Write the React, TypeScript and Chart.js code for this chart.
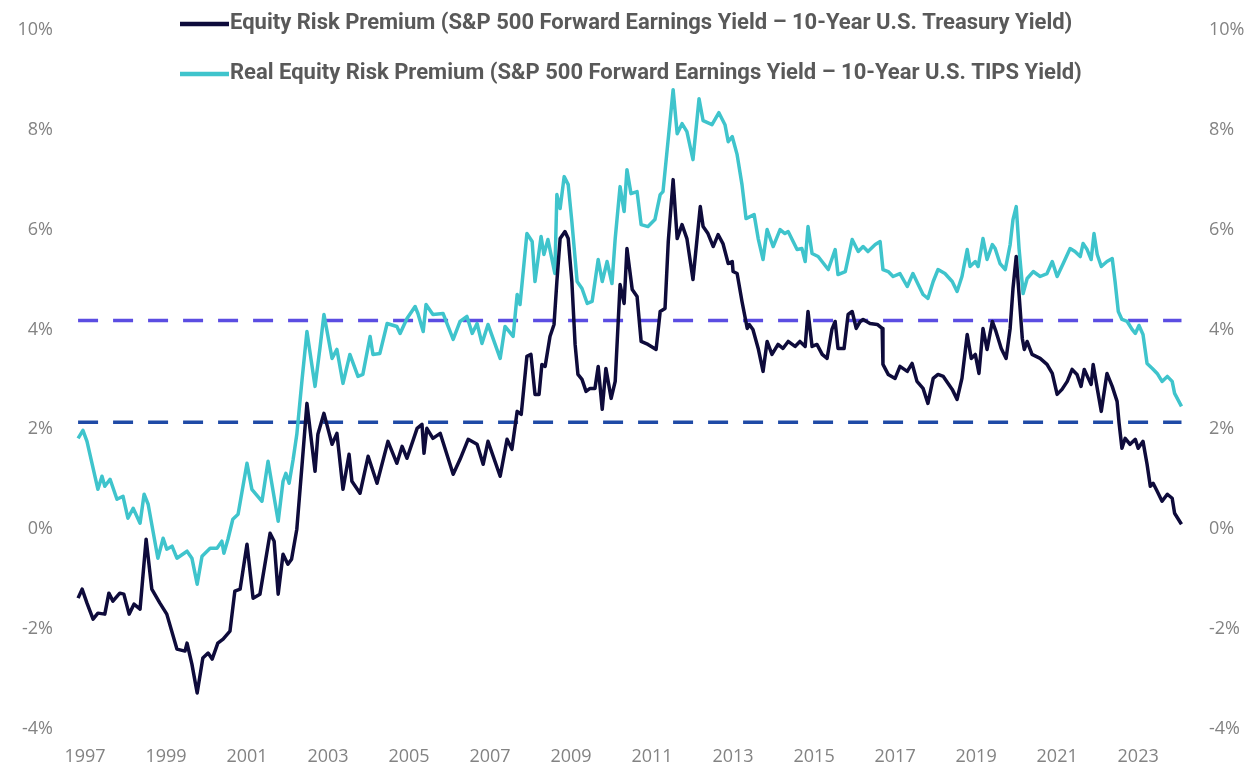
import React, { useEffect, useRef } from "react";
import { Chart, registerables } from "chart.js";

Chart.register(...registerables);

// Dates are decimal years; values are percentages.
const erpDates = [
  1996.83, 1996.93, 1997.05, 1997.2, 1997.32, 1997.49, 1997.59, 1997.69, 1997.86, 1997.96,
  1998.09, 1998.21, 1998.36, 1998.51, 1998.65, 1998.85, 1999.02, 1999.27, 1999.47, 1999.52,
  1999.64, 1999.77, 1999.91, 2000.04, 2000.14, 2000.28, 2000.41, 2000.58, 2000.7, 2000.83,
  2001.0, 2001.15, 2001.32, 2001.57, 2001.67, 2001.77, 2001.89, 2002.01, 2002.1, 2002.23,
  2002.36, 2002.48, 2002.68, 2002.75, 2002.9, 2003.1, 2003.22, 2003.37, 2003.52, 2003.59,
  2003.79, 2003.99, 2004.21, 2004.48, 2004.7, 2004.83, 2004.95, 2005.2, 2005.32, 2005.37,
  2005.44, 2005.59, 2005.77, 2006.09, 2006.26, 2006.46, 2006.68, 2006.83, 2006.95, 2007.25,
  2007.42, 2007.54, 2007.67, 2007.77, 2007.91, 2008.01, 2008.11, 2008.21, 2008.28, 2008.36,
  2008.48, 2008.58, 2008.65, 2008.73, 2008.85, 2008.93, 2009.02, 2009.1, 2009.17, 2009.27,
  2009.37, 2009.47, 2009.59, 2009.67, 2009.77, 2009.86, 2009.99, 2010.09, 2010.21, 2010.31,
  2010.38, 2010.51, 2010.63, 2010.73, 2010.9, 2011.1, 2011.2, 2011.32, 2011.4, 2011.52,
  2011.62, 2011.74, 2011.86, 2012.01, 2012.19, 2012.26, 2012.38, 2012.51, 2012.63, 2012.75,
  2012.88, 2012.98, 2013.0, 2013.1, 2013.22, 2013.35, 2013.4, 2013.49, 2013.62, 2013.74,
  2013.84, 2013.96, 2014.11, 2014.23, 2014.36, 2014.53, 2014.65, 2014.78, 2014.85, 2014.95,
  2015.07, 2015.2, 2015.32, 2015.44, 2015.52, 2015.59, 2015.74, 2015.84, 2015.94, 2016.04,
  2016.14, 2016.21, 2016.38, 2016.56, 2016.68, 2016.7, 2016.83, 2017.0, 2017.12, 2017.3,
  2017.42, 2017.54, 2017.69, 2017.81, 2017.94, 2018.06, 2018.19, 2018.41, 2018.53, 2018.65,
  2018.78, 2018.88, 2018.98, 2019.07, 2019.17, 2019.27, 2019.4, 2019.49, 2019.62, 2019.74,
  2019.84, 2019.91, 2019.99, 2020.06, 2020.14, 2020.19, 2020.26, 2020.38, 2020.58, 2020.75,
  2020.88, 2021.0, 2021.12, 2021.25, 2021.37, 2021.49, 2021.59, 2021.67, 2021.77, 2021.84,
  2021.89, 2021.99, 2022.09, 2022.23, 2022.36, 2022.48, 2022.53, 2022.6, 2022.68, 2022.8,
  2022.93, 2023.0, 2023.12, 2023.22, 2023.3, 2023.37, 2023.47, 2023.59, 2023.72, 2023.84,
  2023.9, 2024.07,
];
const erpValues = [
  -1.38, -1.2, -1.48, -1.8, -1.68, -1.7, -1.28, -1.44, -1.28, -1.3,
  -1.7, -1.5, -1.6, -0.2, -1.2, -1.48, -1.7, -2.4, -2.44, -2.28,
  -2.7, -3.28, -2.58, -2.48, -2.6, -2.28, -2.2, -2.04, -1.24, -1.2,
  -0.3, -1.38, -1.3, -0.08, -0.24, -1.3, -0.5, -0.7, -0.6, 0.0,
  1.3, 2.52, 1.16, 1.9, 2.32, 1.7, 1.92, 0.8, 1.5, 0.96,
  0.72, 1.46, 0.92, 1.76, 1.32, 1.66, 1.42, 2.02, 2.1, 1.52,
  2.02, 1.82, 1.92, 1.1, 1.4, 1.8, 1.7, 1.3, 1.76, 1.06,
  1.8, 1.6, 2.36, 2.3, 3.46, 3.5, 2.7, 2.7, 3.3, 3.26,
  3.86, 4.1, 4.96, 5.82, 5.96, 5.82, 4.96, 3.7, 3.1, 3.0,
  2.76, 2.82, 2.82, 3.26, 2.4, 3.22, 2.62, 2.96, 4.9, 4.52,
  5.62, 4.8, 4.66, 3.76, 3.7, 3.6, 4.36, 4.42, 5.76, 7.0,
  5.82, 6.1, 5.82, 5.0, 6.46, 6.06, 5.92, 5.66, 5.9, 5.72,
  5.32, 5.36, 5.16, 5.12, 4.56, 4.02, 4.1, 4.0, 3.62, 3.16,
  3.76, 3.5, 3.7, 3.62, 3.76, 3.66, 3.76, 3.66, 4.36, 3.66,
  3.7, 3.5, 3.42, 4.0, 4.16, 3.62, 3.62, 4.3, 4.36, 4.02,
  4.16, 4.2, 4.12, 4.1, 4.02, 3.3, 3.1, 3.02, 3.26, 3.16,
  3.32, 2.96, 2.82, 2.52, 3.02, 3.1, 3.06, 2.8, 2.6, 3.02,
  3.9, 3.42, 3.5, 3.12, 4.02, 3.6, 4.16, 3.96, 3.62, 3.42,
  4.02, 4.82, 5.46, 4.7, 3.82, 3.6, 3.76, 3.5, 3.42, 3.3,
  3.12, 2.7, 2.8, 2.96, 3.2, 3.1, 2.86, 3.2, 3.02, 2.9,
  3.3, 2.82, 2.36, 3.12, 2.86, 2.56, 2.12, 1.62, 1.82, 1.7,
  1.8, 1.62, 1.76, 1.3, 0.86, 0.92, 0.76, 0.56, 0.7, 0.62,
  0.32, 0.1,
];

const realDates = [
  1996.83, 1996.95, 1997.05, 1997.32, 1997.42, 1997.49, 1997.62, 1997.79, 1997.94, 1998.06,
  1998.19, 1998.36, 1998.46, 1998.56, 1998.8, 1998.93, 1999.02, 1999.15, 1999.27, 1999.52,
  1999.64, 1999.77, 1999.89, 2000.09, 2000.26, 2000.38, 2000.43, 2000.53, 2000.65, 2000.78,
  2001.0, 2001.12, 2001.37, 2001.52, 2001.77, 2001.89, 2001.96, 2002.04, 2002.14, 2002.23,
  2002.36, 2002.48, 2002.68, 2002.8, 2002.9, 2003.1, 2003.22, 2003.37, 2003.54, 2003.74,
  2003.86, 2004.04, 2004.11, 2004.28, 2004.46, 2004.7, 2004.78, 2004.95, 2005.15, 2005.22,
  2005.35, 2005.42, 2005.59, 2005.84, 2006.09, 2006.26, 2006.43, 2006.56, 2006.68, 2006.8,
  2006.95, 2007.25, 2007.37, 2007.57, 2007.67, 2007.74, 2007.91, 2008.04, 2008.11, 2008.26,
  2008.33, 2008.43, 2008.6, 2008.65, 2008.73, 2008.83, 2008.93, 2009.02, 2009.15, 2009.27,
  2009.4, 2009.52, 2009.67, 2009.77, 2009.89, 2010.01, 2010.09, 2010.21, 2010.31, 2010.38,
  2010.48, 2010.63, 2010.73, 2010.9, 2011.07, 2011.2, 2011.27, 2011.4, 2011.52, 2011.62,
  2011.74, 2011.86, 2012.01, 2012.16, 2012.26, 2012.48, 2012.65, 2012.8, 2012.88, 2012.98,
  2013.1, 2013.22, 2013.32, 2013.42, 2013.52, 2013.62, 2013.74, 2013.84, 2013.99, 2014.16,
  2014.28, 2014.36, 2014.58, 2014.7, 2014.78, 2014.85, 2014.95, 2015.1, 2015.35, 2015.52,
  2015.59, 2015.77, 2015.94, 2016.09, 2016.21, 2016.33, 2016.51, 2016.63, 2016.7, 2016.83,
  2016.95, 2017.12, 2017.3, 2017.44, 2017.57, 2017.69, 2017.81, 2017.94, 2018.06, 2018.23,
  2018.41, 2018.53, 2018.65, 2018.78, 2018.85, 2018.98, 2019.05, 2019.17, 2019.27, 2019.4,
  2019.47, 2019.59, 2019.72, 2019.84, 2019.91, 2019.99, 2020.06, 2020.16, 2020.26, 2020.41,
  2020.58, 2020.75, 2020.88, 2021.0, 2021.15, 2021.32, 2021.44, 2021.57, 2021.64, 2021.74,
  2021.84, 2021.91, 2021.99, 2022.09, 2022.23, 2022.36, 2022.43, 2022.51, 2022.6, 2022.73,
  2022.85, 2022.93, 2023.02, 2023.12, 2023.22, 2023.35, 2023.47, 2023.59, 2023.72, 2023.84,
  2023.9, 2024.07,
];
const realValues = [
  1.82, 1.98, 1.76, 0.8, 1.06, 0.86, 1.0, 0.6, 0.66, 0.22,
  0.42, 0.12, 0.7, 0.5, -0.58, -0.18, -0.4, -0.34, -0.58, -0.44,
  -0.58, -1.1, -0.54, -0.38, -0.38, -0.24, -0.48, -0.2, 0.2, 0.3,
  1.32, 0.8, 0.56, 1.36, 0.16, 0.96, 1.12, 0.92, 1.4, 1.9,
  3.0, 3.96, 2.86, 3.62, 4.3, 3.42, 3.6, 2.92, 3.5, 3.06,
  3.1, 3.86, 3.5, 3.52, 4.12, 4.06, 3.92, 4.22, 4.46, 4.32,
  3.96, 4.5, 4.3, 4.32, 3.8, 4.16, 4.26, 3.92, 4.12, 3.72,
  4.1, 3.42, 4.06, 3.86, 4.7, 4.5, 5.92, 5.76, 4.96, 5.86,
  5.5, 5.8, 5.12, 6.7, 6.42, 7.06, 6.9, 6.16, 4.96, 4.82,
  4.52, 4.56, 5.4, 4.96, 5.36, 4.92, 5.82, 6.86, 6.36, 7.2,
  6.72, 6.76, 6.1, 6.06, 6.2, 6.7, 6.76, 7.82, 8.8, 7.92,
  8.12, 7.96, 7.4, 8.62, 8.18, 8.1, 8.34, 8.1, 7.76, 7.86,
  7.5, 6.9, 6.22, 6.26, 6.3, 5.82, 5.4, 6.0, 5.66, 6.0,
  5.92, 5.96, 5.6, 5.62, 5.36, 6.06, 5.52, 5.46, 5.2, 5.6,
  5.1, 5.16, 5.8, 5.56, 5.66, 5.56, 5.7, 5.76, 5.2, 5.16,
  5.06, 5.12, 4.86, 5.12, 4.9, 4.7, 4.62, 4.96, 5.2, 5.12,
  4.96, 4.76, 5.06, 5.6, 5.26, 5.36, 5.26, 5.82, 5.4, 5.7,
  5.62, 5.32, 5.2, 5.7, 6.2, 6.46, 5.62, 4.72, 5.02, 5.16,
  5.06, 5.12, 5.36, 5.06, 5.32, 5.62, 5.56, 5.46, 5.72, 5.6,
  5.4, 5.92, 5.5, 5.26, 5.36, 5.42, 4.96, 4.36, 4.2, 4.16,
  4.0, 3.92, 4.08, 3.9, 3.32, 3.22, 3.12, 2.96, 3.06, 2.96,
  2.72, 2.46,
];

const erpAverage = 2.14;
const realAverage = 4.18;

const yTicks = [-4, -2, 0, 2, 4, 6, 8, 10];
const xTickYears = [1997, 1999, 2001, 2003, 2005, 2007, 2009, 2011, 2013, 2015, 2017, 2019, 2021, 2023];

const erpLabel = "Equity Risk Premium (S&P 500 Forward Earnings Yield \u2013 10-Year U.S. Treasury Yield)";
const realLabel = "Real Equity Risk Premium (S&P 500 Forward Earnings Yield \u2013 10-Year U.S. TIPS Yield)";

const NAVY = "#0e0b3b";
const TEAL = "#3fc4cc";
const AVG_REAL_COLOR = "#5b4de2";
const AVG_ERP_COLOR = "#1f4aa6";
const TICK_COLOR = "#838383";
const TICK_FONT = { family: "'Open Sans', 'Noto Sans', sans-serif", size: 18 };

const W = 1252;
const H = 773;

const topLegend = {
  id: "topLegend",
  afterDraw(chart: any) {
    const ctx = chart.ctx as CanvasRenderingContext2D;
    const items = chart.data.datasets.filter((d: any) => d.showInLegend);
    ctx.save();
    const family = "'Roboto', 'Open Sans', sans-serif";
    ctx.font = `700 20px ${family}`;
    const w0 = ctx.measureText(items[0].label).width;
    const size = Math.min(22, 20 * 850 / w0);
    ctx.font = `700 ${size.toFixed(2)}px ${family}`;
    ctx.textBaseline = "middle";
    ctx.textAlign = "left";
    items.forEach((item: any, i: number) => {
      const y = 23 + i * 50;
      ctx.strokeStyle = item.borderColor;
      ctx.lineWidth = 4.5;
      ctx.lineCap = "butt";
      ctx.beginPath();
      ctx.moveTo(180, y + 1);
      ctx.lineTo(229, y + 1);
      ctx.stroke();
      ctx.fillStyle = "#595959";
      ctx.fillText(item.label, 230, y);
    });
    ctx.restore();
  },
};

export default function App() {
  const canvasRef = useRef<HTMLCanvasElement | null>(null);

  useEffect(() => {
    document.body.style.margin = "0";
    const canvas = canvasRef.current;
    if (!canvas) return;
    const toPoints = (dates: number[], values: number[]) => dates.map((d, i) => ({ x: d, y: values[i] }));
    const first = erpDates[0];
    const last = erpDates[erpDates.length - 1];

    const chart = new Chart(canvas, {
      type: "line",
      data: {
        datasets: [
          {
            label: erpLabel,
            data: toPoints(erpDates, erpValues),
            borderColor: NAVY,
            backgroundColor: NAVY,
            borderWidth: 3.5,
            borderJoinStyle: "round",
            pointRadius: 0,
            tension: 0,
            order: 1,
            yAxisID: "y",
            showInLegend: true,
          } as any,
          {
            label: realLabel,
            data: toPoints(realDates, realValues),
            borderColor: TEAL,
            backgroundColor: TEAL,
            borderWidth: 3.5,
            borderJoinStyle: "round",
            pointRadius: 0,
            tension: 0,
            order: 2,
            yAxisID: "y",
            showInLegend: true,
          } as any,
          {
            label: "Real ERP average",
            data: [{ x: first, y: realAverage }, { x: last, y: realAverage }],
            borderColor: AVG_REAL_COLOR,
            borderWidth: 3.5,
            borderDash: [20, 15],
            pointRadius: 0,
            order: 3,
            yAxisID: "y",
          },
          {
            label: "ERP average",
            data: [{ x: first, y: erpAverage }, { x: last, y: erpAverage }],
            borderColor: AVG_ERP_COLOR,
            borderWidth: 3.5,
            borderDash: [20, 15],
            pointRadius: 0,
            order: 3,
            yAxisID: "y",
          },
        ],
      },
      options: {
        responsive: false,
        animation: false,
        events: [],
        layout: { padding: { top: 27, left: 0, right: 0, bottom: 0 } },
        plugins: {
          legend: { display: false },
          tooltip: { enabled: false },
          title: { display: false },
        },
        scales: {
          x: {
            type: "linear",
            min: 1996.68,
            max: 2024.28,
            grid: { display: false, drawTicks: false },
            border: { display: false },
            afterBuildTicks: (scale: any) => {
              scale.ticks = xTickYears.map((v) => ({ value: v }));
            },
            afterFit: (scale: any) => {
              scale.height = 44;
            },
            ticks: {
              autoSkip: false,
              maxRotation: 0,
              padding: 17,
              color: TICK_COLOR,
              font: TICK_FONT,
              callback: (v: any) => String(v),
            },
          },
          y: {
            position: "left",
            min: -4,
            max: 10,
            grid: { display: false, drawTicks: false },
            border: { display: false },
            afterBuildTicks: (scale: any) => {
              scale.ticks = yTicks.map((v) => ({ value: v }));
            },
            afterFit: (scale: any) => {
              scale.width = 72;
            },
            ticks: {
              padding: 19,
              color: TICK_COLOR,
              font: TICK_FONT,
              callback: (v: any) => `${v}%`,
            },
          },
          y2: {
            position: "right",
            min: -4,
            max: 10,
            grid: { display: false, drawTicks: false },
            border: { display: false },
            afterBuildTicks: (scale: any) => {
              scale.ticks = yTicks.map((v) => ({ value: v }));
            },
            afterFit: (scale: any) => {
              scale.width = 62;
            },
            ticks: {
              padding: 19,
              color: TICK_COLOR,
              font: TICK_FONT,
              callback: (v: any) => `${v}%`,
            },
          },
        },
      },
      plugins: [topLegend],
    });
    return () => chart.destroy();
  }, []);

  return (
    <div style={{ width: W, height: H, position: "relative", background: "#ffffff" }}>
      <canvas ref={canvasRef} width={W} height={H} style={{ display: "block" }} />
    </div>
  );
}
